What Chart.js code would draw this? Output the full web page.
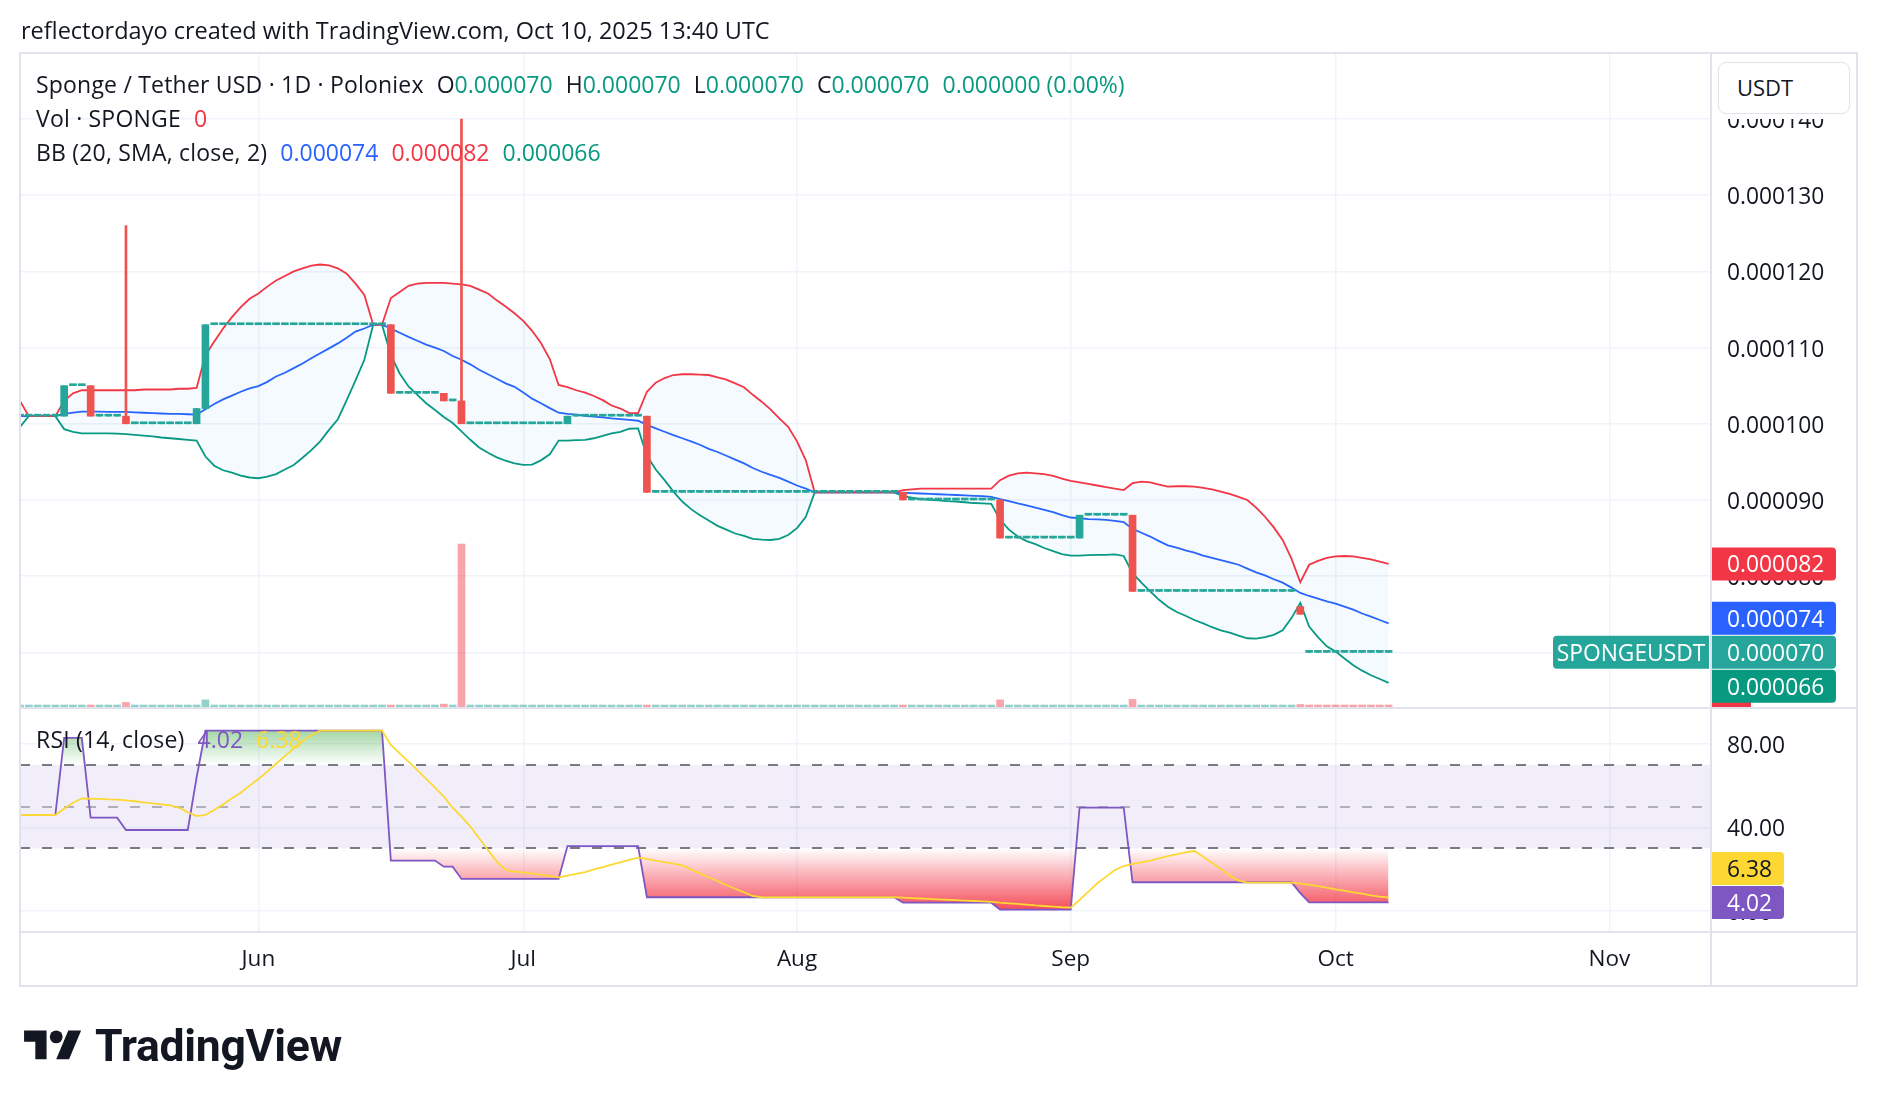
<!DOCTYPE html>
<html>
<head>
<meta charset="utf-8">
<title>SPONGEUSDT · 1D · Poloniex</title>
<script src="https://cdn.jsdelivr.net/npm/chart.js@4.4.1/dist/chart.umd.min.js"></script>
<style>
  html, body { margin: 0; padding: 0; background: #fff; }
  #page { position: relative; width: 1878px; height: 1106px; overflow: hidden; background: #fff;
          font-family: "Open Sans", Roboto, sans-serif; color: #131722; }
  canvas { position: absolute; left: 0; top: 0; }
  .row { position: absolute; white-space: nowrap; font-size: 23px; line-height: 30px; }
  .lbl { letter-spacing: 0.2px; }
  .gap { margin-left: 13px; }
  .up { color: #089981; }
  .down { color: #f23645; }
  .blue { color: #2962ff; }
  .purple { color: #7e57c2; }
  .yellow { color: #fdd835; }
</style>
</head>
<body>
<div id="page">
  <canvas id="priceChart" width="1878" height="1106"></canvas>
  <canvas id="rsiChart" width="1878" height="1106"></canvas>

  <div class="row" style="left:21px;top:15px;font-size:23.5px">reflectordayo created with TradingView.com, Oct 10, 2025 13:40 UTC</div>

  <div class="row" style="left:36px;top:69px"><span class="lbl">Sponge / Tether USD · 1D · Poloniex</span><span class="gap">O</span><span class="up" id="vO"></span><span class="gap">H</span><span class="up" id="vH"></span><span class="gap">L</span><span class="up" id="vL"></span><span class="gap">C</span><span class="up" id="vC"></span><span class="gap up" id="vChg"></span></div>
  <div class="row" style="left:36px;top:102.5px"><span class="lbl">Vol · SPONGE</span><span class="gap down" id="vVol"></span></div>
  <div class="row" style="left:36px;top:137px"><span class="lbl">BB (20, SMA, close, 2)</span><span class="gap blue" id="vBasis"></span><span class="gap down" id="vUpper"></span><span class="gap up" id="vLower"></span></div>
  <div class="row" style="left:36px;top:724px"><span class="lbl">RSI (14, close)</span><span class="gap purple" id="vRsi"></span><span class="gap yellow" id="vRsiMa"></span></div>

  <div style="position:absolute;left:1712px;top:54px;width:144px;height:65px;background:#fff"></div>
  <div style="position:absolute;left:1718px;top:62px;width:132px;height:52px;box-sizing:border-box;border:1.5px solid #e0e3eb;border-radius:8px;font-size:22px;line-height:49px;padding-left:18px">USDT</div>

  <div style="position:absolute;left:24px;top:1024px;display:flex;align-items:center;height:45px">
    <svg width="58" height="45" viewBox="0 0 36 28"><path fill="#131722" d="M14 22H7V11H0V4h14v18zM28 22h-8l7.5-18h8L28 22z"/><circle fill="#131722" cx="20" cy="8" r="4"/></svg>
    <span style="font-family:Roboto,sans-serif;font-weight:700;font-size:44.5px;letter-spacing:-0.3px;margin-left:13px;line-height:45px">TradingView</span>
  </div>
</div>

<script>
// day index: 0 = 2025-05-01, first candle on the chart is day 3
const firstDay = 3;
// prices in units of 1e-6 USDT
const UNIT = 1e-6;

const close = [
  // May 4 - May 31
  101,101,101,101,101,101,105,105,105,101,101,101,101,100,100,100,100,100,100,100,100,102,113,113,113,113,113,113,
  // Jun
  113,113,113,113,113,113,113,113,113,113,113,113,113,113,113,104,104,104,104,104,104,103,103,100,100,100,100,100,100,100,
  // Jul
  100,100,100,100,100,101,101,101,101,101,101,101,101,101,91,91,91,91,91,91,91,91,91,91,91,91,91,91,91,91,91,
  // Aug
  91,91,91,91,91,91,91,91,91,91,91,91,90,90,90,90,90,90,90,90,90,90,90,85,85,85,85,85,85,85,85,
  // Sep
  85,88,88,88,88,88,88,78,78,78,78,78,78,78,78,78,78,78,78,78,78,78,78,78,78,78,75,70,70,70,
  // Oct 1 - Oct 7
  70,70,70,70,70,70,70
];

// days where the candle is not flat
const moveDays = [9, 12, 16, 24, 25, 46, 52, 54, 66, 75, 104, 115, 124, 130, 149];
const moveOpen = [101, 105, 101, 100, 102, 113, 104, 103, 100, 101, 91, 90, 85, 88, 76];
const moveHigh = [105, 105, 126, 102, 113, 113, 104, 140, 101, 101, 91, 90, 88, 88, 76];
const moveLow  = [101, 101, 100, 100, 102, 104, 103, 100, 100, 91, 90, 85, 85, 78, 75];

// volume (thousand SPONGE), zero on all other days
const volDays   = [12, 16, 25, 46, 52, 54, 75, 104, 115, 130, 149];
const volValues = [50, 135, 210, 50, 85, 4830, 50, 50, 210, 225, 75];
const downVolDays = [12, 16, 46, 52, 54, 75, 104, 115, 130, 149, 150, 151, 152, 153, 154, 155, 156, 157, 158, 159];

const bbUpper = [
  104.5,103.0,101.0,101.0,101.0,101.0,103.0,104.0,104.4,104.4,104.4,104.4,104.4,104.4,104.4,104.5,104.5,104.5,104.5,104.6,104.6,104.7,109.0,110.8,112.5,114.0,115.3,116.4,
  117.1,118.0,118.8,119.4,120.0,120.4,120.75,120.9,120.8,120.4,119.7,118.4,116.9,113.0,113.0,116.5,117.3,118.1,118.4,118.5,118.5,118.5,118.4,118.3,118.1,117.6,117.1,116.2,115.4,114.5,
  113.5,112.2,110.6,108.5,105.1,104.8,104.4,104.1,103.65,103.1,102.4,102.0,101.4,101.4,104.2,105.4,106.0,106.4,106.5,106.5,106.45,106.4,106.1,105.8,105.3,104.8,103.8,102.9,101.9,100.7,99.6,
  97.7,95.2,91.0,91.0,91.0,91.0,91.0,91.0,91.0,91.0,91.0,91.0,91.3,91.4,91.5,91.5,91.5,91.5,91.5,91.5,91.5,91.5,91.5,92.6,93.2,93.5,93.6,93.5,93.4,93.15,92.8,
  92.5,92.3,92.1,91.9,91.7,91.5,91.3,92.2,92.4,92.3,92.0,91.75,91.8,91.8,91.75,91.6,91.4,91.1,90.8,90.4,90.0,89.0,87.8,86.4,84.75,82.3,79.2,81.5,82.0,82.4,
  82.6,82.65,82.6,82.4,82.2,81.9,81.6
];
const bbBasis = [
  101.0,101.0,101.0,101.0,101.0,101.0,101.3,101.45,101.6,101.6,101.6,101.55,101.55,101.55,101.5,101.45,101.4,101.35,101.3,101.3,101.25,101.2,101.9,102.6,103.2,103.7,104.2,104.65,
  104.95,105.5,106.2,106.7,107.3,107.9,108.6,109.25,109.9,110.55,111.3,112.1,112.5,113.0,113.0,112.5,111.95,111.4,110.9,110.4,110.0,109.55,108.9,108.4,107.8,107.1,106.5,105.9,105.3,104.85,
  104.1,103.3,102.7,102.05,101.45,101.3,101.2,101.05,100.95,100.85,100.7,100.6,100.5,100.4,99.85,99.4,98.95,98.5,98.1,97.7,97.25,96.7,96.3,95.8,95.3,94.8,94.2,93.7,93.3,92.9,92.4,
  91.9,91.5,91.0,91.0,91.0,91.0,91.0,91.0,91.0,91.0,91.0,91.0,90.95,90.9,90.85,90.8,90.75,90.7,90.65,90.6,90.55,90.5,90.4,90.1,89.85,89.55,89.3,89.0,88.7,88.4,88.0,
  87.7,87.6,87.5,87.45,87.4,87.25,87.1,86.2,85.7,85.2,84.6,84.05,83.75,83.4,83.1,82.7,82.4,82.1,81.8,81.5,81.0,80.5,80.1,79.6,79.15,78.5,77.8,77.4,77.05,76.7,
  76.4,76.0,75.6,75.1,74.7,74.25,73.8
];
const bbLower = [
  98.2,99.6,101.0,101.0,101.0,101.0,99.3,98.95,98.75,98.75,98.75,98.75,98.7,98.65,98.55,98.45,98.35,98.2,98.1,98.0,97.9,97.8,95.7,94.5,93.9,93.6,93.2,92.95,
  92.85,93.05,93.4,94.0,94.6,95.55,96.55,97.7,99.2,100.6,103.1,105.7,108.4,113.0,113.0,109.0,106.6,104.9,103.8,102.7,101.8,100.9,100.1,99.0,97.9,96.9,96.2,95.6,95.15,94.8,
  94.6,94.65,95.2,96.0,97.8,97.8,97.85,97.9,98.1,98.4,98.75,98.95,99.35,99.4,95.8,94.0,92.6,91.1,89.8,88.8,88.0,87.3,86.6,86.1,85.6,85.3,84.9,84.8,84.75,84.9,85.4,
  86.3,87.8,91.0,91.0,91.0,91.0,91.0,91.0,91.0,91.0,91.0,91.0,90.5,90.3,90.1,90.0,89.95,89.85,89.8,89.7,89.6,89.55,89.5,87.4,86.1,85.2,84.6,84.2,83.7,83.3,82.9,
  82.7,82.7,82.75,82.8,82.8,82.85,82.65,80.4,79.15,78.0,76.9,76.0,75.3,74.8,74.25,73.8,73.3,72.9,72.6,72.2,71.85,71.8,72.0,72.3,72.9,74.5,76.5,73.4,72.0,70.8,
  70.1,69.2,68.3,67.6,67.0,66.5,66.0
];

const rsi = [
  46,46,46,46,46,46,83,83,83,44.7,44.7,44.7,44.7,38.8,38.8,38.8,38.8,38.8,38.8,38.8,38.8,64,86.5,86.5,86.5,86.5,86.5,86.5,
  86.5,86.5,86.5,86.5,86.5,86.5,86.5,86.5,86.5,86.5,86.5,86.5,86.5,86.5,86.5,24.1,24.1,24.1,24.1,24.1,24.1,21.2,21.2,15.3,15.3,15.3,15.3,15.3,15.3,15.3,
  15.3,15.3,15.3,15.3,15.3,31.1,31.1,31.1,31.1,31.1,31.1,31.1,31.1,31.1,6.5,6.5,6.5,6.5,6.5,6.5,6.5,6.5,6.5,6.5,6.5,6.5,6.5,6.5,6.5,6.5,6.5,
  6.5,6.5,6.5,6.5,6.5,6.5,6.5,6.5,6.5,6.5,6.5,6.5,3.9,3.9,3.9,3.9,3.9,3.9,3.9,3.9,3.9,3.9,3.9,0.6,0.6,0.6,0.6,0.6,0.6,0.6,0.6,
  0.6,49.5,49.5,49.5,49.5,49.5,49.5,13.7,13.7,13.7,13.7,13.7,13.7,13.7,13.7,13.7,13.7,13.7,13.7,13.7,13.7,13.7,13.7,13.7,13.7,13.7,8.5,4.02,4.02,4.02,
  4.02,4.02,4.02,4.02,4.02,4.02,4.02
];
const rsiMa = [
  46,46,46,46,46,46,49,51.9,54,53.8,53.7,53.5,53.4,53.0,52.6,52.1,51.6,51.1,50.6,49.5,47.3,45.5,46,48.4,51.1,54,56.7,60.1,
  63.3,66.8,70.6,74.3,78,81.5,84.4,86.5,86.5,86.5,86.5,86.5,86.5,86.5,86.5,79.6,75.6,71.6,67.6,63.3,59.1,54.8,49.5,45.2,40.4,34.8,29.2,23.6,19.6,18.8,
  18.4,17.9,17.4,16.7,16.1,16.9,17.7,18.6,19.9,21.0,22.2,23.3,24.4,25.5,24.9,24.1,23.4,22.6,21.8,19.9,18.0,16.1,14.3,12.4,10.6,8.9,7.1,6.5,6.5,6.5,6.5,
  6.5,6.5,6.5,6.5,6.5,6.5,6.5,6.5,6.5,6.5,6.5,6.5,6.3,6.1,5.9,5.7,5.5,5.3,5.1,4.9,4.7,4.5,4.3,3.9,3.6,3.3,3.0,2.6,2.3,2.0,1.7,
  1.5,5.2,9.2,13.2,16.4,19.6,21.5,22.5,23.3,24.1,25.2,26.2,27.1,28.1,28.7,26.0,23.1,20.1,17.0,14.5,13.5,13.5,13.5,13.5,13.5,13.5,13.0,12.6,11.9,11.1,
  10.3,9.7,8.9,8.2,7.4,6.8,6.38
];

const monthDays = [31, 61, 92, 123, 153, 184];
const monthLabels = ["Jun", "Jul", "Aug", "Sep", "Oct", "Nov"];
const priceTicks = [70, 80, 90, 100, 110, 120, 130, 140];
const rsiTicks = [0, 40, 80];
const rsiLevels = [70, 50, 30];

// ---- derived per-candle arrays ----
const days = close.map((_, i) => firstDay + i);
const pick = (arr, d, fallback) => { const k = moveDays.indexOf(d); return k >= 0 ? arr[k] : fallback; };
const open = days.map((d, i) => pick(moveOpen, d, close[i]));
const high = days.map((d, i) => pick(moveHigh, d, close[i]));
const low = days.map((d, i) => pick(moveLow, d, close[i]));
const volume = days.map(d => { const k = volDays.indexOf(d); return k >= 0 ? volValues[k] : 0; });

const UP = "#26a69a", DOWN = "#ef5350";
const GRID = "#f0f3fa";
const FONT = "'Open Sans', Roboto, sans-serif";
const fmt = v => (v * UNIT).toFixed(6);
const last = close.length - 1;
const pts = arr => days.map((d, i) => ({ x: d, y: arr[i] }));

// legend values
document.getElementById("vO").textContent = fmt(open[last]);
document.getElementById("vH").textContent = fmt(high[last]);
document.getElementById("vL").textContent = fmt(low[last]);
document.getElementById("vC").textContent = fmt(close[last]);
document.getElementById("vChg").textContent = fmt(close[last] - open[last]) + " (" + (0).toFixed(2) + "%)";
document.getElementById("vVol").textContent = String(volume[last]);
document.getElementById("vBasis").textContent = fmt(bbBasis[last]);
document.getElementById("vUpper").textContent = fmt(bbUpper[last]);
document.getElementById("vLower").textContent = fmt(bbLower[last]);
document.getElementById("vRsi").textContent = rsi[last].toFixed(2);
document.getElementById("vRsiMa").textContent = rsiMa[last].toFixed(2);

Chart.defaults.font.family = FONT;
Chart.defaults.color = "#131722";

function tag(ctx, x, yc, w, h, bg, radii, text, fg, tx, align) {
  ctx.fillStyle = bg;
  ctx.beginPath();
  ctx.roundRect(x, yc - h / 2, w, h, radii);
  ctx.fill();
  if (text !== undefined) {
    ctx.fillStyle = fg;
    ctx.textAlign = align || "left";
    ctx.textBaseline = "middle";
    ctx.fillText(text, tx, yc + 2);
  }
}

// stack the axis tags so they do not overlap, keeping the anchor tag in place
function spread(tags, h) {
  const a = tags.findIndex(t => t.anchor);
  for (let i = a - 1; i >= 0; i--) tags[i].y = Math.min(tags[i].y, tags[i + 1].y - h - 1);
  for (let i = a + 1; i < tags.length; i++) tags[i].y = Math.max(tags[i].y, tags[i - 1].y + h + 1);
}

const priceTags = {
  id: "priceTags",
  afterDraw(chart) {
    const { ctx, chartArea: a, scales } = chart;
    const ax = a.right + 2, h = 33;
    ctx.save();
    ctx.font = "22.8px " + FONT;
    // volume value tag, clipped by the pane
    ctx.save();
    ctx.beginPath();
    ctx.rect(ax, a.top, 200, a.bottom - a.top);
    ctx.clip();
    tag(ctx, ax, scales.yVol.getPixelForValue(volume[last]), 39, h, "#f23645", [0, 4, 4, 0]);
    ctx.restore();

    const tags = [
      { v: bbUpper[last], bg: "#f23645" },
      { v: bbBasis[last], bg: "#2962ff" },
      { v: close[last], bg: UP, anchor: true },
      { v: bbLower[last], bg: "#089981" }
    ];
    tags.forEach(t => t.y = scales.y.getPixelForValue(t.v));
    spread(tags, h);
    tags.forEach(t => tag(ctx, ax, t.y, 124, h, t.bg, [0, 4, 4, 0], fmt(t.v), "#fff", ax + 15));
    const c = tags.find(t => t.anchor);
    tag(ctx, a.right - 157, c.y, 156, h, UP, [4, 0, 0, 4], "SPONGEUSDT", "#fff", a.right - 79, "center");
    ctx.restore();
  }
};

const rsiDecor = {
  id: "rsiDecor",
  beforeDatasetsDraw(chart) {
    const { ctx, chartArea: a, scales: { y } } = chart;
    const yTop = y.getPixelForValue(rsiLevels[0]), yBot = y.getPixelForValue(rsiLevels[2]);
    ctx.save();
    ctx.fillStyle = "rgba(126,87,194,0.1)";
    ctx.fillRect(a.left, yTop, a.right - a.left, yBot - yTop);
    ctx.lineWidth = 2;
    ctx.setLineDash([10, 12]);
    rsiLevels.forEach((lv, i) => {
      const py = Math.round(y.getPixelForValue(lv));
      ctx.strokeStyle = i === 1 ? "rgba(120,123,134,0.55)" : "#787b86";
      ctx.beginPath();
      ctx.moveTo(a.left, py);
      ctx.lineTo(a.right, py);
      ctx.stroke();
    });
    ctx.restore();
  },
  afterDraw(chart) {
    const { ctx, chartArea: a, scales: { y } } = chart;
    const ax = a.right + 2, h = 33;
    ctx.save();
    ctx.font = "22.8px " + FONT;
    const tags = [
      { v: rsiMa[last], bg: "#fdd835", fg: "#131722" },
      { v: rsi[last], bg: "#7e57c2", fg: "#fff", anchor: true }
    ];
    tags.forEach(t => t.y = y.getPixelForValue(t.v));
    spread(tags, h);
    tags.forEach(t => tag(ctx, ax, t.y, 72, h, t.bg, [0, 4, 4, 0], t.v.toFixed(2), t.fg, ax + 15));

    // pane frame
    ctx.strokeStyle = "#e0e3eb";
    ctx.lineWidth = 2;
    const L = a.left, R = 1857, T = 53, B = a.bottom + 55;
    ctx.strokeRect(L, T, R - L, B - T);
    const line = (x1, y1, x2, y2) => { ctx.beginPath(); ctx.moveTo(x1, y1); ctx.lineTo(x2, y2); ctx.stroke(); };
    line(a.right + 1, T, a.right + 1, B);
    line(L, a.top - 1, R, a.top - 1);
    line(L, a.bottom + 1, R, a.bottom + 1);
    ctx.restore();
  }
};

function rsiFill(chart, kind) {
  const s = chart.scales.y;
  if (!chart.chartArea || !s) return "rgba(0,0,0,0)";
  const ctx = chart.ctx;
  let g;
  if (kind === "ob") {
    g = ctx.createLinearGradient(0, s.getPixelForValue(70), 0, s.getPixelForValue(88));
    g.addColorStop(0, "rgba(76,175,80,0)");
    g.addColorStop(1, "rgba(76,175,80,0.55)");
  } else {
    g = ctx.createLinearGradient(0, s.getPixelForValue(30), 0, s.getPixelForValue(0));
    g.addColorStop(0, "rgba(242,54,69,0)");
    g.addColorStop(1, "rgba(242,54,69,0.9)");
  }
  return g;
}

const xCommon = {
  type: "linear",
  min: 4.0,
  max: 195.4,
  offset: false,
  grid: { color: GRID, lineWidth: 1.5, drawTicks: false, offset: false },
  border: { display: false },
  afterBuildTicks: s => { s.ticks = monthDays.map(v => ({ value: v })); }
};

new Chart(document.getElementById("priceChart"), {
  type: "bar",
  data: {
    datasets: [
      {
        label: "body",
        data: days.map((d, i) => ({ x: d, y: [open[i], close[i]] })),
        backgroundColor: days.map((d, i) => close[i] >= open[i] ? UP : DOWN),
        barThickness: 7,
        minBarLength: 2,
        grouped: false,
        yAxisID: "y"
      },
      {
        label: "wick",
        data: days.map((d, i) => ({ x: d, y: [low[i], high[i]] })),
        backgroundColor: days.map((d, i) => close[i] >= open[i] ? UP : DOWN),
        barThickness: 2,
        grouped: false,
        yAxisID: "y"
      },
      {
        type: "line", label: "upper", data: pts(bbUpper), yAxisID: "y",
        borderColor: "#f23645", borderWidth: 1.8, pointRadius: 0, tension: 0,
        fill: "+2", backgroundColor: "rgba(33,150,243,0.05)", clip: 0
      },
      {
        type: "line", label: "basis", data: pts(bbBasis), yAxisID: "y",
        borderColor: "#2962ff", borderWidth: 1.8, pointRadius: 0, tension: 0, fill: false, clip: 0
      },
      {
        type: "line", label: "lower", data: pts(bbLower), yAxisID: "y",
        borderColor: "#089981", borderWidth: 1.8, pointRadius: 0, tension: 0, fill: false, clip: 0
      },
      {
        label: "volume",
        data: days.map((d, i) => ({ x: d, y: volume[i] })),
        backgroundColor: days.map(d => downVolDays.includes(d) ? "rgba(242,54,69,0.45)" : "rgba(38,166,154,0.5)"),
        barThickness: 7,
        minBarLength: 2,
        grouped: false,
        yAxisID: "yVol"
      }
    ]
  },
  options: {
    responsive: false,
    animation: false,
    devicePixelRatio: 1,
    events: [],
    layout: { padding: { left: 20, right: 21, top: 54, bottom: 399 } },
    plugins: { legend: { display: false }, tooltip: { enabled: false } },
    scales: {
      x: Object.assign({}, xCommon, { ticks: { display: false }, afterFit: s => { s.height = 0; } }),
      y: {
        position: "right",
        min: 62.83,
        max: 148.53,
        grid: { color: GRID, lineWidth: 1.5, drawTicks: false },
        border: { display: false },
        ticks: { padding: 17, labelOffset: 2.5, font: { size: 22.8 }, color: "#131722", callback: v => fmt(v) },
        afterBuildTicks: s => { s.ticks = priceTicks.map(v => ({ value: v })); },
        afterFit: s => { s.width = 147; }
      },
      yVol: { display: false, min: 0, max: 19350 }
    }
  },
  plugins: [priceTags]
});

new Chart(document.getElementById("rsiChart"), {
  type: "line",
  data: {
    datasets: [
      { label: "RSI MA", data: pts(rsiMa), borderColor: "#fdd835", borderWidth: 1.8, pointRadius: 0, tension: 0, fill: false, clip: 0 },
      { label: "RSI", data: pts(rsi), borderColor: "#7e57c2", borderWidth: 1.8, pointRadius: 0, tension: 0, fill: false, clip: 0 },
      {
        label: "overbought", data: pts(rsi), borderWidth: 0, pointRadius: 0, tension: 0,
        backgroundColor: c => rsiFill(c.chart, "ob"),
        fill: { target: { value: 70 }, below: "rgba(0,0,0,0)" }
      },
      {
        label: "oversold", data: pts(rsi), borderWidth: 0, pointRadius: 0, tension: 0,
        backgroundColor: c => rsiFill(c.chart, "os"),
        fill: { target: { value: 30 }, above: "rgba(0,0,0,0)" }
      }
    ]
  },
  options: {
    responsive: false,
    animation: false,
    devicePixelRatio: 1,
    events: [],
    layout: { padding: { left: 20, right: 21, top: 709, bottom: 120 } },
    plugins: { legend: { display: false }, tooltip: { enabled: false } },
    scales: {
      x: Object.assign({}, xCommon, {
        ticks: {
          padding: 15, font: { size: 22.5 }, color: "#131722", maxRotation: 0, autoSkip: false,
          callback: v => monthLabels[monthDays.indexOf(v)]
        },
        afterFit: s => { s.height = 55; }
      }),
      y: {
        position: "right",
        min: -9.7,
        max: 96.9,
        grid: { color: GRID, lineWidth: 1.5, drawTicks: false },
        border: { display: false },
        ticks: { padding: 17, labelOffset: 2.5, font: { size: 22.8 }, color: "#131722", callback: v => v.toFixed(2) },
        afterBuildTicks: s => { s.ticks = rsiTicks.map(v => ({ value: v })); },
        afterFit: s => { s.width = 147; }
      }
    }
  },
  plugins: [rsiDecor]
});
</script>
</body>
</html>
